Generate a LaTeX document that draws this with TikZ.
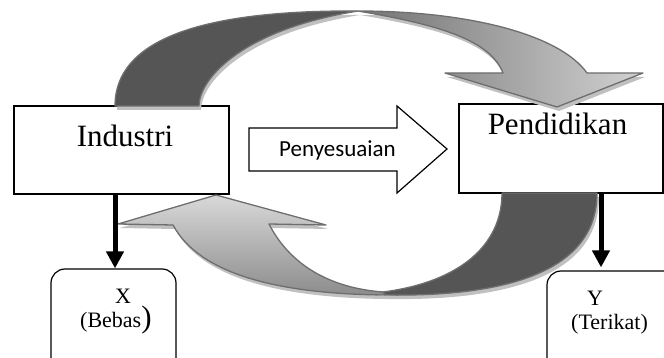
\documentclass[tikz,border=0pt]{standalone}
\usepackage{fontspec}
\setmainfont{Liberation Serif}
\newfontfamily\calfont{Carlito}
\usetikzlibrary{arrows.meta,positioning}
\definecolor{band}{RGB}{85,85,85}
\definecolor{rim}{RGB}{110,110,110}
\definecolor{haze}{RGB}{192,192,192}
\tikzset{
  >={Triangle[length=17pt,width=17pt]},
  plain box/.style={draw,line width=1.2pt,fill=white,inner sep=0pt},
  var box/.style={draw,line width=1.2pt,fill=white,rounded corners=14pt,inner sep=0pt},
  big/.style={font=\fontsize{31}{36}\selectfont,inner sep=0pt,anchor=base},
  small/.style={font=\fontsize{22}{26}\selectfont,inner sep=0pt,anchor=base},
  link/.style={->,line width=5pt},
  back/.style={fill=band,draw=rim,line width=1.3pt,line join=round},
  front/.style={draw=rim,line width=1.3pt,line join=round},
  haze/.style={fill=haze,draw=none},
}
% outlines of the two bent block arrows
\newcommand\topback{(115,106) .. controls (115,40) and (200,10) .. (358,11)
  .. controls (240,30) and (199,80) .. (199,106) -- cycle}
\newcommand\topfront{(358,11) .. controls (470,11) and (560,35) .. (587,73)
  -- (643,73) -- (557,107) -- (445,73) -- (503,73)
  .. controls (490,40) and (440,25) .. (358,11) -- cycle}
\newcommand\lowback{(383,292) .. controls (460,282) and (502,245) .. (502,193)
  -- (597,193) .. controls (597,270) and (510,297) .. (385,295) -- cycle}
\newcommand\lowfront{(216,195) -- (326,225) -- (269,224)
  .. controls (290,265) and (330,288) .. (383,292) -- (385,295)
  .. controls (280,294) and (200,275) .. (173,225) -- (118,224) -- cycle}

\begin{document}
\begin{tikzpicture}[x=1pt,y=-1pt]
  \useasboundingbox (0,0) rectangle (664,358);
  \clip (0,0) rectangle (664,358);

  % boxes
  \node[plain box,minimum width=215pt,minimum height=88pt] (ind) at (121.5,150) {};
  \node[plain box,minimum width=204pt,minimum height=89pt] (pend) at (561,148.5) {};
  \node[var box,minimum width=125pt,minimum height=106pt] (xbox) at (113.5,322) {};
  \node[var box,minimum width=133pt,minimum height=106pt] (ybox) at (613.5,324) {};
  \node[big] (indlbl) at (125,147) {Industri};
  \node[big] (pendlbl) at (557.5,135) {Pendidikan};
  \node[small] (xlbl) at (123,303) {X};
  \node[small,anchor=base west] (xsub) at (80,327) {(Bebas{\fontsize{31}{36}\selectfont)}};
  \node[small] (ylbl) at (595,305) {Y};
  \node[small] (ysub) at (609.5,329) {(Terikat)};

  % middle arrow
  \draw[line width=1.2pt,line join=miter,fill=white] (249,128) -- (397,128) -- (397,106)
    -- (447,149) -- (397,193) -- (397,171) -- (249,171) -- cycle;
  \node[font=\calfont\fontsize{23}{27}\selectfont,inner sep=0pt,anchor=base] (adj) at (337.5,157) {Penyesuaian};

  % bent arrows with soft shadow
  \fill[haze,shift={(2,4)}] \topback \topfront;
  \fill[haze,shift={(2,4)}] \lowback \lowfront;
  \draw[back] \topback;
  \draw[front,left color=black!55,right color=black!18] \topfront;
  \draw[back] \lowback;
  \draw[front,top color=black!15,bottom color=black!45] \lowfront;

  % variable arrows
  \coordinate (xarr) at (115,0);
  \coordinate (yarr) at (601,0);
  \draw[link] (ind.south -| xarr) -- (xbox.north -| xarr);
  \draw[link,shorten >=3pt] (pend.south -| yarr) -- (ybox.north -| yarr);
\end{tikzpicture}
\end{document}
